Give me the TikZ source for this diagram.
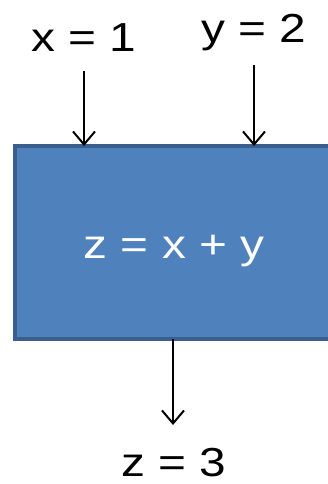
\documentclass[tikz,border=0pt]{standalone}
\usepackage{fontspec}
\setmainfont{Liberation Sans}
\usetikzlibrary{arrows.meta}
\definecolor{boxfill}{HTML}{4F81BD}
\definecolor{boxline}{HTML}{3A5F8E}
\newcommand\wide[1]{\scalebox{1.18}[1]{#1}}
\begin{document}
\begin{tikzpicture}[x=1pt,y=-1pt,
  lbl/.style={font=\fontsize{40.5}{44}\selectfont, inner sep=0pt, anchor=base},
  arr/.style={line width=2pt, -{Straight Barb[length=13pt,width=22pt,line width=2pt]}}]
\useasboundingbox (0,0) rectangle (328,484);
\begin{scope}
\clip (0,0) rectangle (328,484);
\draw[boxline, fill=boxfill, line width=4pt] (14.5,146) rectangle (345,339);
\end{scope}
\node[lbl, text=white] (sum) at (174,258) {\wide{z = x + y}};
\coordinate (boxtop1) at (84,146);
\coordinate (boxtop2) at (254,146);
\coordinate (boxbot) at (173,339);
\node[lbl] (x) at (84,52) {\wide{x = 1}};
\node[lbl] (y) at (253.5,43) {\wide{y = 2}};
\node[lbl] (z) at (173.5,476) {\wide{z = 3}};
\coordinate (xs) at (84,71);
\coordinate (ys) at (254,65);
\coordinate (ze) at (173,425);
\draw[arr] (xs) -- (boxtop1);
\draw[arr] (ys) -- (boxtop2);
\draw[arr] (boxbot) -- (ze);
\end{tikzpicture}
\end{document}
